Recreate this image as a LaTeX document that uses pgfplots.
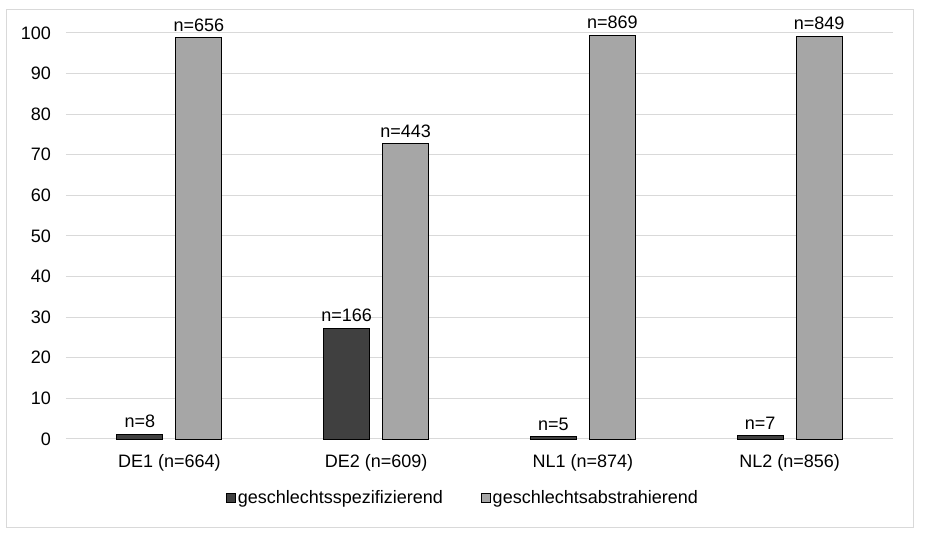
\documentclass[border=0pt]{standalone}
\usepackage{pgfplots}
\pgfplotsset{compat=1.18}
\usepackage{fontspec}
\setmainfont{Liberation Sans}
\definecolor{darkbar}{HTML}{404040}
\definecolor{lightbar}{HTML}{A6A6A6}
\definecolor{gridc}{HTML}{D9D9D9}
\definecolor{framec}{HTML}{D9D9D9}
\pgfplotstableread{
x spec specn abs absn
0 1.20 8 98.80 656
1 27.26 166 72.74 443
2 0.57 5 99.43 869
3 0.82 7 99.18 849
}\data
\begin{document}
\begin{tikzpicture}
\useasboundingbox (0pt,0pt) rectangle (930pt,538pt);
\draw[framec, line width=1pt] (6.5pt,10.5pt) rectangle (913.5pt,528pt);
\begin{axis}[
  at={(66pt,99pt)}, anchor=south west,
  scale only axis, width=827pt, height=406pt,
  ybar=13pt, bar width=46pt,
  xmin=-0.5, xmax=3.5, ymin=0, ymax=100,
  ytick={0,10,...,100},
  xtick={0,1,2,3},
  xticklabels={DE1 (n=664),DE2 (n=609),NL1 (n=874),NL2 (n=856)},
  axis line style={draw=none},
  major tick length=0pt,
  ymajorgrids, grid style={gridc, line width=1pt},
  tick label style={font=\fontsize{18}{21}\selectfont, inner sep=0pt},
  yticklabel style={anchor=east, xshift=-15pt},
  xticklabel style={anchor=base, yshift=-29pt},
  /pgf/number format/assume math mode=true,
  clip=false,
  nodes near coords style={font=\fontsize{18}{21}\selectfont, inner sep=0pt, yshift=6pt, text=black},
  legend style={at={(0.48,-0.1453)}, anchor=center, draw=none, fill=none,
    font=\fontsize{18}{21}\selectfont, legend columns=2,
    /tikz/every even column/.append style={column sep=36pt},
    nodes={inner sep=2pt}},
  legend image code/.code={\draw[#1, line width=0.8pt] (0pt,-4.5pt) rectangle (9pt,4.5pt);},
]
\addplot[fill=darkbar, draw=black, line width=0.8pt,
  nodes near coords={n=\pgfplotspointmeta}, point meta=explicit symbolic]
  table[x=x, y=spec, meta=specn]{\data};
\addlegendentry{geschlechtsspezifizierend}
\addplot[fill=lightbar, draw=black, line width=0.8pt,
  nodes near coords={n=\pgfplotspointmeta}, point meta=explicit symbolic]
  table[x=x, y=abs, meta=absn]{\data};
\addlegendentry{geschlechtsabstrahierend}
\end{axis}
\end{tikzpicture}
\end{document}
